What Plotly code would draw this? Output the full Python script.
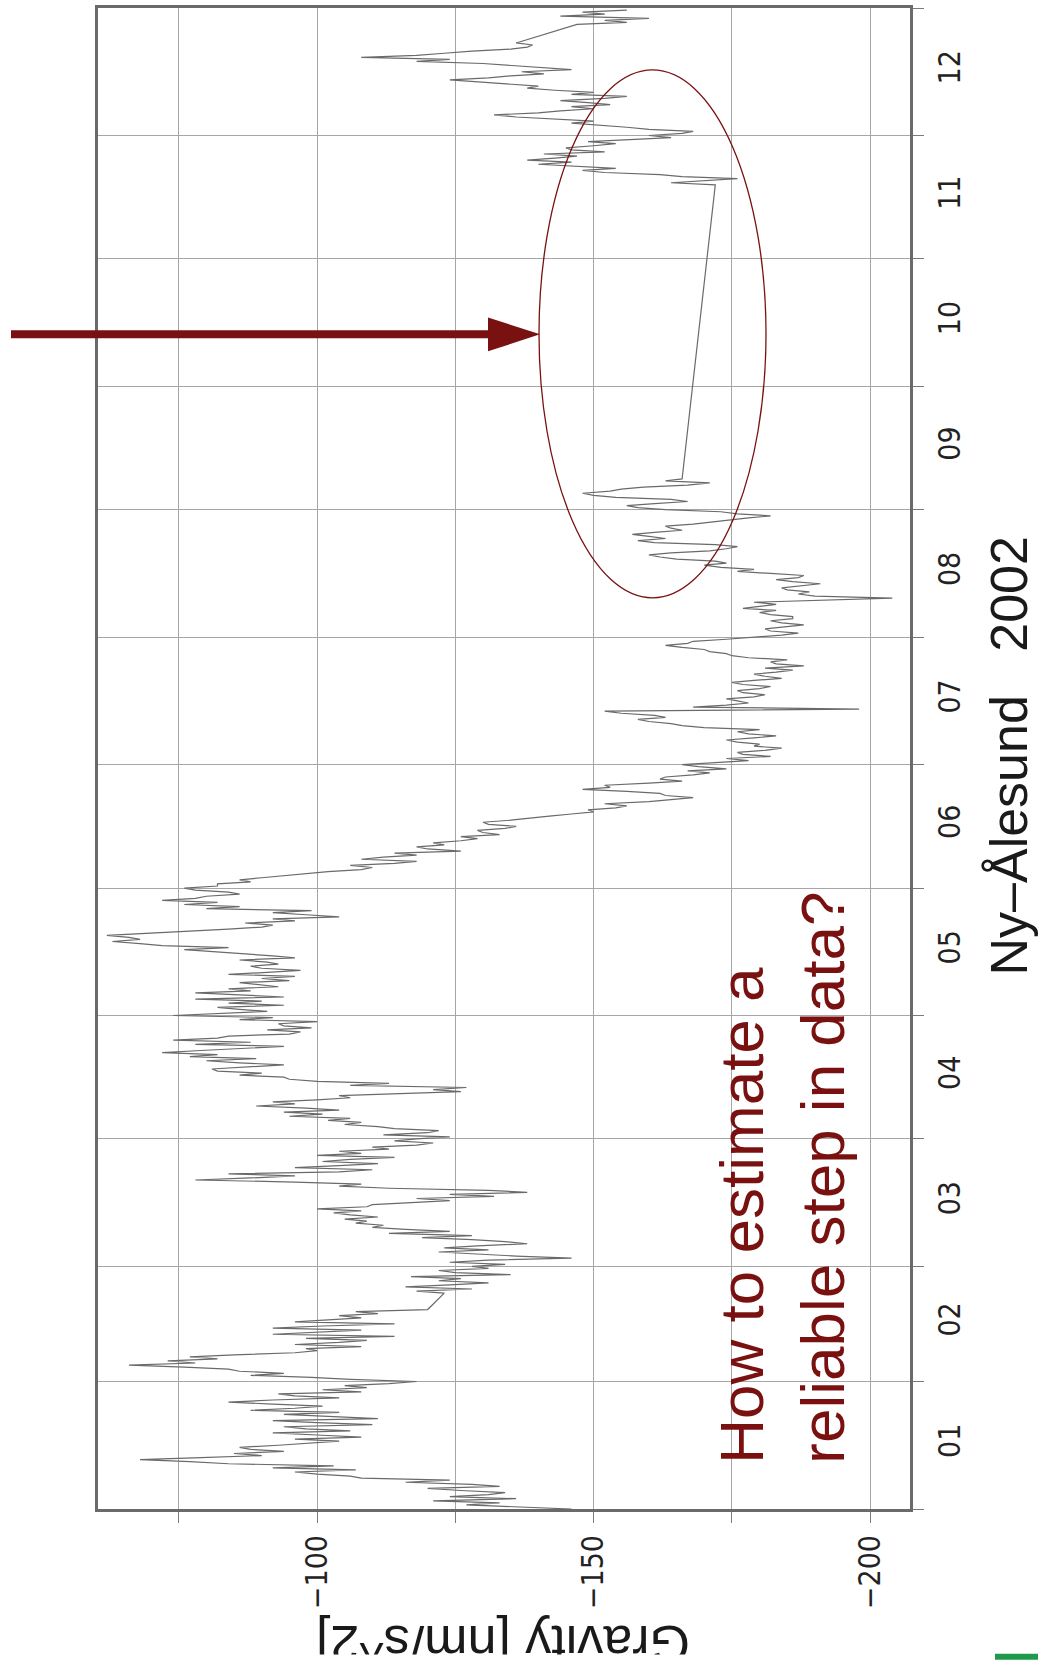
import plotly.graph_objects as go
import pandas as pd

# ---------------- data ----------------
# gravity residuals [nm/s^2], sampled every 12 hours, in four recorded segments
segment_starts = ["2002-01-01 00:00", "2002-02-22 12:00", "2002-11-19 00:00", "2002-12-28 00:00"]

grav_jan_feb = [
    -146, -137, -127, -133, -121, -136, -124, -131, -134, -126, -120, -133, -128, -116, -124, -108,
    -106, -100, -96, -107, -92, -103, -84, -77, -68, -79, -90, -85, -94, -88, -86, -93,
    -98, -104, -96, -108, -100, -92, -106, -98, -94, -110, -100, -92, -111, -103, -94, -104,
    -88, -96, -101, -92, -84, -92, -104, -96, -93, -108, -101, -109, -105, -113, -118, -106,
    -99, -88, -94, -86, -84, -76, -66, -78, -73, -82, -77, -85, -96, -100, -98, -108,
    -96, -104, -109, -98, -114, -92, -99, -108, -92, -101, -114, -96, -102, -108, -104, -111,
    -107, -120,
]

grav_feb_sep = [
    -123,
    -118, -128, -116, -124, -131, -122, -126, -117, -135, -125, -122, -131, -128, -134, -124, -131,
    -146, -136, -128, -122, -131, -123, -129, -138, -134, -128, -119, -128, -113, -124, -116, -110,
    -112, -107, -109, -105, -111, -106, -103, -108, -100, -109, -110, -118, -124, -118, -132, -124,
    -138, -131, -113, -104, -108, -96, -78, -88, -96, -84, -104, -110, -96, -104, -111, -101,
    -106, -114, -100, -108, -104, -113, -110, -118, -121, -114, -118, -124, -112, -120, -122, -114,
    -111, -105, -108, -102, -106, -95, -101, -94, -104, -98, -89, -96, -92, -100, -106, -104,
    -116, -126, -121, -127, -106, -113, -100, -95, -94, -86, -90, -82, -81, -88, -94, -86,
    -80, -89, -77, -82, -72, -79, -86, -94, -78, -88, -74, -82, -84, -95, -97, -91,
    -99, -94, -93, -100, -86, -92, -74, -84, -91, -86, -82, -94, -84, -90, -78, -94,
    -85, -78, -88, -84, -93, -89, -86, -95, -90, -96, -84, -91, -97, -90, -88, -93,
    -91, -86, -96, -92, -86, -82, -76, -84, -72, -68, -63, -68, -66, -62, -70, -78,
    -84, -90, -92, -87, -96, -92, -104, -98, -92, -99, -80, -86, -76, -82, -72, -78,
    -80, -86, -84, -78, -76, -82, -82, -88, -86, -90, -94, -98, -102, -108, -110, -106,
    -114, -118, -108, -112, -118, -114, -126, -120, -118, -123, -121, -126, -129, -126, -133, -130,
    -129, -134, -136, -131, -130, -135, -138, -142, -146, -150, -149, -154, -156, -152, -160, -164,
    -168, -163, -162, -156, -148, -153, -152, -160, -166, -162, -163, -168, -171, -167, -174, -169,
    -166, -172, -178, -174, -182, -177, -176, -181, -184, -179, -180, -176, -174, -179, -183, -178,
    -176, -180, -170, -166, -164, -160, -158, -163, -161, -155, -152, -198, -168, -174, -178, -176,
    -174, -179, -181, -177, -176, -180, -182, -177, -175, -179, -184, -181, -179, -183, -186, -181,
    -188, -183, -182, -185, -178, -175, -174, -171, -170, -166, -163, -167, -168, -174, -179, -184,
    -187, -182, -181, -185, -188, -184, -182, -186, -186, -182, -180, -183, -177, -180, -183, -179,
    -193, -204, -190, -187, -189, -185, -184, -188, -191, -186, -183, -187, -188, -182, -176, -179,
    -173, -170, -174, -172, -165, -162, -160, -164, -171, -174, -176, -172, -161, -158, -163, -160,
    -157, -161, -166, -164, -163, -168, -171, -175, -178, -182, -176, -173, -163, -158, -156, -161,
    -167, -164, -154, -150, -148, -153, -155, -159, -167, -171, -163, -166,
]

grav_nov_dec = [
    -172, -164, -170, -176, -166, -162, -152, -148, -154, -146, -140, -146, -138, -143, -147, -141,
    -152, -146, -145, -150, -154, -149, -158, -164, -160, -166, -168, -160, -156, -150, -146, -150,
    -142, -136, -132, -140, -144, -150, -146, -153, -149, -144, -152, -156, -146, -150, -143, -138,
    -140, -134, -128, -124, -131, -135, -141, -137, -146, -141, -136, -130, -118, -124, -108, -118,
    -123, -128, -135, -138, -139, -136,
]

grav_dec_end = [-147, -156, -152, -160, -144, -152, -148, -156]

segments = [grav_jan_feb, grav_feb_sep, grav_nov_dec, grav_dec_end]

times = []
values = []
for start, seg in zip(segment_starts, segments):
    times.extend(pd.date_range(start, periods=len(seg), freq="12h"))
    values.extend(seg)

x_tickvals = [-75, -100, -125, -150, -175, -200]
x_ticktext = ["", "\u2212100", "", "\u2212150", "", "\u2212200"]

# ---------------- figure ----------------
W, H = 1039, 1674
L, R, T, B = 98, 129, 5, 165
PW, PH = W - L - R, H - T - B


def px(xp):
    return (xp - L) / PW


def py(yp):
    return (H - B - yp) / PH


DARKRED = "#7a1111"
FONT = "Liberation Sans, Arial, Helvetica, sans-serif"
NARROW = "Liberation Sans Narrow, DejaVu Sans Condensed, Liberation Sans, Arial, sans-serif"

fig = go.Figure()
fig.add_trace(go.Scatter(
    x=values, y=times, mode="lines",
    line=dict(color="#6a6a6a", width=1.2),
    hoverinfo="skip", showlegend=False,
))

axis_common = dict(
    showgrid=True, gridcolor="#a6a6a6", gridwidth=1,
    showline=True, linecolor="#6a6a6a", linewidth=3, mirror=True,
    ticks="outside", ticklen=11, tickcolor="#7a7a7a", tickwidth=1,
    zeroline=False,
    tickfont=dict(family=NARROW, size=30, color="#222222"),
)

fig.update_layout(
    width=W, height=H,
    margin=dict(l=L, r=R, t=T, b=B),
    paper_bgcolor="white", plot_bgcolor="white",
    showlegend=False,
    xaxis=dict(
        range=[-60.4, -207.2],
        tickmode="array", tickvals=x_tickvals, ticktext=x_ticktext,
        tickangle=-90,
        **axis_common,
    ),
    yaxis=dict(
        type="date", side="right",
        range=["2002-01-01", "2003-01-01"],
        tick0="2002-01-01", dtick="M1", tickformat="%m",
        ticklabelmode="period", tickangle=-90,
        **axis_common,
    ),
)

annotations = [
    dict(text="Ny\u2013\u00c5lesund\u00a0\u00a0 2002", x=px(1009), y=py(755),
         xref="paper", yref="paper", showarrow=False, textangle=-90,
         xanchor="center", yanchor="middle",
         font=dict(family=FONT, size=52, color="#1a1a1a")),
    dict(text="Gravity [nm/s^2]", x=px(503), y=py(1645),
         xref="paper", yref="paper", showarrow=False, textangle=180,
         xanchor="center", yanchor="middle",
         font=dict(family=FONT, size=52, color="#1a1a1a")),
    # white strip: the source picture ends just below, cutting the axis title
    dict(text="", x=px(500), y=py(1665), xref="paper", yref="paper",
         showarrow=False, width=480, height=20, bgcolor="white",
         xanchor="center", yanchor="middle", borderpad=0),
    dict(text="How to estimate a<br>reliable step in data?", x=px(782), y=py(1177),
         xref="paper", yref="paper", showarrow=False, textangle=-90, align="left",
         xanchor="center", yanchor="middle",
         font=dict(family=FONT, size=62, color=DARKRED)),
]
fig.update_layout(annotations=annotations)

shapes = [
    # ellipse around the gap
    dict(type="circle", xref="paper", yref="paper",
         x0=px(539), x1=px(766), y0=py(596), y1=py(67),
         line=dict(color=DARKRED, width=1.3)),
    # arrow shaft
    dict(type="line", xref="paper", yref="paper",
         x0=px(11), x1=px(492), y0=py(332), y1=py(332),
         line=dict(color=DARKRED, width=8)),
    # arrow head
    dict(type="path", xref="paper", yref="paper",
         path=f"M {px(488)} {py(315)} L {px(540)} {py(332)} L {px(488)} {py(349)} Z",
         fillcolor=DARKRED, line=dict(color=DARKRED, width=0)),
    # small green mark bottom right
    dict(type="rect", xref="paper", yref="paper",
         x0=px(995), x1=px(1038), y0=py(1660), y1=py(1654),
         fillcolor="#1e9a4c", line=dict(width=0)),
]
fig.update_layout(shapes=shapes)

fig.write_html("out.html")
